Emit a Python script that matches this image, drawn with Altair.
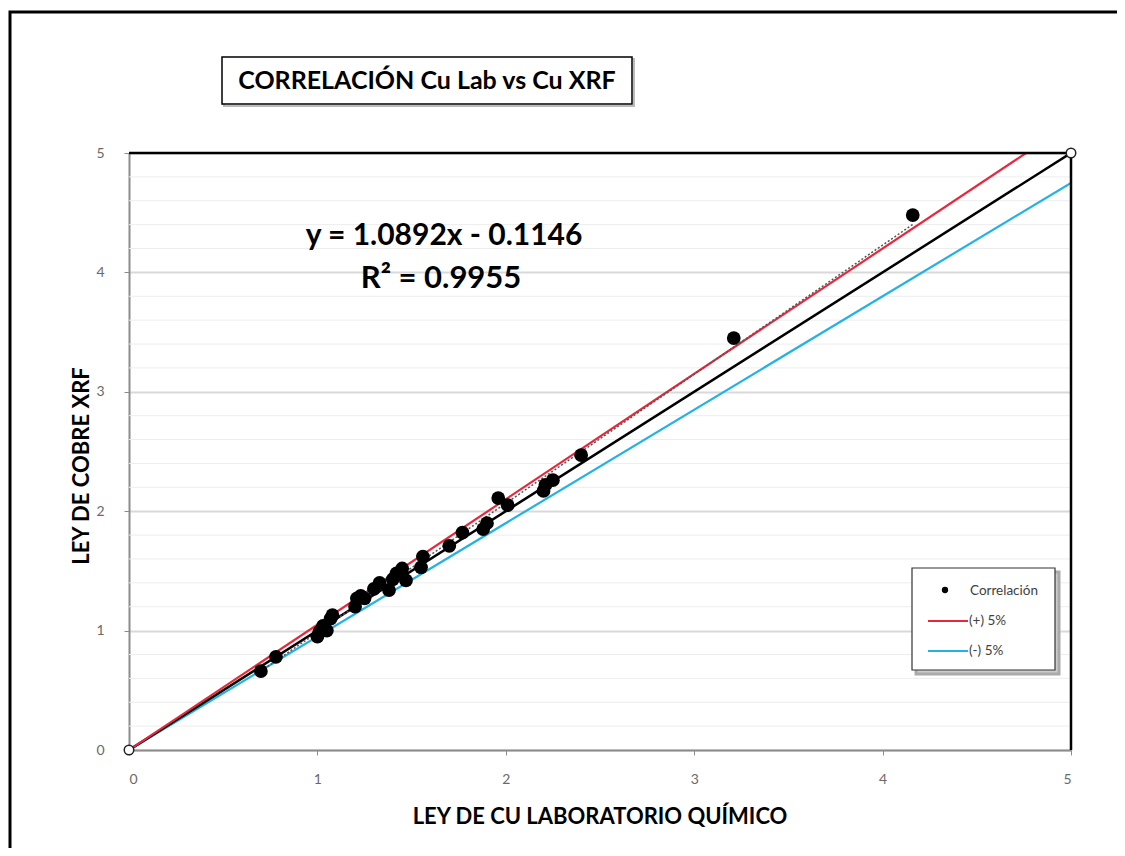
import altair as alt
import pandas as pd

# ---- data ----
lab = [0.70, 0.78, 1.00, 1.01, 1.03, 1.05, 1.07, 1.08, 1.20, 1.21, 1.23, 1.25,
       1.30, 1.33, 1.38, 1.40, 1.42, 1.45, 1.47, 1.55, 1.56, 1.70, 1.77, 1.88,
       1.90, 1.96, 2.01, 2.20, 2.21, 2.25, 2.40, 3.21, 4.16]
xrf = [0.66, 0.78, 0.95, 0.99, 1.04, 1.00, 1.10, 1.13, 1.20, 1.27, 1.29, 1.27,
       1.35, 1.40, 1.34, 1.43, 1.48, 1.52, 1.42, 1.53, 1.62, 1.71, 1.82, 1.85,
       1.90, 2.11, 2.05, 2.17, 2.22, 2.26, 2.47, 3.45, 4.48]

major_ticks = [0, 1, 2, 3, 4, 5]
minor_ticks = [0.2, 0.4, 0.6, 0.8, 1.2, 1.4, 1.6, 1.8, 2.2, 2.4, 2.6, 2.8,
               3.2, 3.4, 3.6, 3.8, 4.2, 4.4, 4.6, 4.8]
band_x = [0, 5]
plus_y = [0, 5.25]
minus_y = [0, 4.75]
ident_y = [0, 5]
ends_x = [0, 5]
ends_y = [0, 5]

title_text = "CORRELACIÓN Cu Lab vs Cu XRF"
eq_text = "y = 1.0892x - 0.1146"
r2_text = "R² = 0.9955"
x_title = "LEY DE CU LABORATORIO QUÍMICO"
y_title = "LEY DE COBRE XRF"
legend_labels = ["Correlación", "(+) 5%", "(-) 5%"]

RED = "#e8283a"
BLUE = "#22b2e6"
FONT = "Lato"

W, H = 942, 597
xs = alt.Scale(domain=[0, 5], nice=False, zero=False)
ys = alt.Scale(domain=[0, 5], nice=False, zero=False)

pts = pd.DataFrame({"lab": lab, "xrf": xrf})
one = pd.DataFrame({"a": [0]})

xaxis = alt.Axis(values=major_ticks, grid=False, title=None, labelFont=FONT,
                 labelFontSize=14, labelColor="#6a6a6a", labelPadding=17,
                 tickColor="#8c8c8c", tickSize=5, domainColor="#8c8c8c",
                 domainWidth=2, format="d")
yaxis = alt.Axis(values=major_ticks, grid=True, gridColor="#d9d9d9", gridWidth=2,
                 title=None, labelFont=FONT, labelFontSize=14, labelColor="#6a6a6a",
                 labelPadding=20, tickColor="#8c8c8c", tickSize=5,
                 domainColor="#8c8c8c", domainWidth=2, format="d")

base = alt.Chart(pd.DataFrame({"m": minor_ticks})).mark_rule(
    color="#ededed", strokeWidth=1
).encode(
    y=alt.Y("m:Q", scale=ys, axis=yaxis),
    x=alt.datum(0, scale=xs, axis=xaxis),
    x2=alt.datum(5),
)

def ref_line(yvals, color, width=2):
    df = pd.DataFrame({"x": band_x, "y": yvals})
    return alt.Chart(df).mark_line(color=color, strokeWidth=width, clip=True).encode(
        x=alt.X("x:Q", scale=xs), y=alt.Y("y:Q", scale=ys))

blue = ref_line(minus_y, BLUE, 2.2)
black = ref_line(ident_y, "black", 2.5)
red = ref_line(plus_y, RED, 2.2)

top_rule = alt.Chart(one).mark_rule(color="black", strokeWidth=2.5).encode(
    x=alt.datum(0), x2=alt.datum(5), y=alt.datum(5))
right_rule = alt.Chart(one).mark_rule(color="black", strokeWidth=2.5).encode(
    x=alt.datum(5), y=alt.datum(0), y2=alt.datum(5))

trend = alt.Chart(pts).transform_regression("lab", "xrf").mark_line(
    color="#555555", strokeWidth=1.5, strokeDash=[2, 2]
).encode(x=alt.X("lab:Q", scale=xs), y=alt.Y("xrf:Q", scale=ys))

points = alt.Chart(pts).mark_circle(size=190, color="black", opacity=1).encode(
    x=alt.X("lab:Q", scale=xs), y=alt.Y("xrf:Q", scale=ys))

ends = alt.Chart(pd.DataFrame({"x": ends_x, "y": ends_y})).mark_point(
    shape="circle", filled=True, fill="white", stroke="#222222", strokeWidth=1.5,
    size=90, opacity=1, clip=False
).encode(x=alt.X("x:Q", scale=xs), y=alt.Y("y:Q", scale=ys))

# ---- texts ----
def txt(text, x, y, size, bold=True, color="black", angle=None, align="center"):
    kw = dict(text=text, font=FONT, fontSize=size, fontWeight="bold" if bold else "normal",
              color=color, align=align, baseline="middle")
    if angle is not None:
        kw["angle"] = angle
    return alt.Chart(one).mark_text(**kw).encode(x=alt.value(x), y=alt.value(y))

def box(x1, y1, x2, y2, stroke="black", width=1.5, fill=None, opacity=1):
    kw = dict(stroke=stroke, strokeWidth=width, fill=fill if fill else "white",
              fillOpacity=1 if fill else 0, opacity=opacity)
    return alt.Chart(one).mark_rect(**kw).encode(
        x=alt.value(x1), x2=alt.value(x2), y=alt.value(y1), y2=alt.value(y2))

outer = alt.Chart(one).mark_rect(stroke="black", strokeWidth=3, fillOpacity=0).encode(
    x=alt.value(-119), x2=alt.value(1100), y=alt.value(-141), y2=alt.value(800))

title_shadow = box(95, -94, 505, -47, stroke="#bbbbbb", width=2)
title_box = box(93, -96, 503, -49, stroke="black", width=1.5, fill="white")
title = txt(title_text, 298, -72, 25)

eq = txt(eq_text, 315, 83, 30)
r2 = txt(r2_text, 312, 126, 31)

xt = txt(x_title, 471, 664, 22)
yt = txt(y_title, -47, 313, 22, angle=270)

leg_shadow = box(787, 419, 930, 521, stroke="#aaaaaa", width=3, fill="#cccccc")
leg_box = box(783, 415, 926, 517, stroke="#333333", width=1.2, fill="white")
leg_dot = alt.Chart(one).mark_circle(size=40, color="black", opacity=1).encode(
    x=alt.value(816), y=alt.value(437))
leg_red = alt.Chart(one).mark_rule(color=RED, strokeWidth=2).encode(
    x=alt.value(799), x2=alt.value(839), y=alt.value(468))
leg_blue = alt.Chart(one).mark_rule(color=BLUE, strokeWidth=2).encode(
    x=alt.value(799), x2=alt.value(839), y=alt.value(498))
leg_t1 = txt(legend_labels[0], 841, 438, 13.5, bold=False, color="#404040", align="left")
leg_t2 = txt(legend_labels[1], 840, 468, 13.5, bold=False, color="#404040", align="left")
leg_t3 = txt(legend_labels[2], 840, 498, 13.5, bold=False, color="#404040", align="left")

chart = alt.layer(
    base, blue, black, red, top_rule, right_rule, trend, points, ends,
    outer, title_shadow, title_box, title, eq, r2, xt, yt,
    leg_shadow, leg_box, leg_dot, leg_red, leg_blue, leg_t1, leg_t2, leg_t3,
).properties(
    width=W, height=H, autosize="none",
    padding={"left": 121, "top": 145, "right": 46, "bottom": 98},
).configure_view(stroke=None)

chart.save("out.html", embed_options={"renderer": "svg", "actions": False})
